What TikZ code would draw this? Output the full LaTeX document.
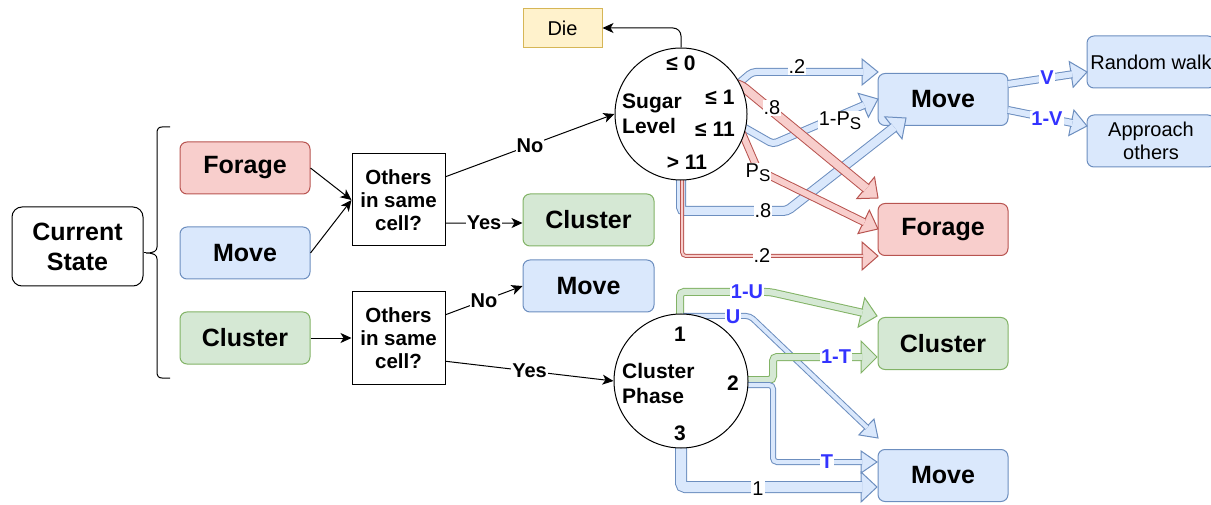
\documentclass[tikz,border=0pt]{standalone}
\usepackage{fontspec}
\setmainfont{Liberation Sans}
\usetikzlibrary{arrows.meta,calc}
\definecolor{bS}{HTML}{6C8EBF}\definecolor{bF}{HTML}{DAE8FC}
\definecolor{rS}{HTML}{B85450}\definecolor{rF}{HTML}{F8CECC}
\definecolor{gS}{HTML}{82B366}\definecolor{gF}{HTML}{D5E8D4}
\definecolor{yS}{HTML}{D6B656}\definecolor{yF}{HTML}{FFF2CC}
\definecolor{lbl}{HTML}{3333FF}
% #1 band style, #2 stroke, #3 fill, #4 half head width, #5 path, #6 penultimate point, #7 tip
\newcommand\flexarrow[7]{%
  \coordinate (hB) at ($(#7)!16pt!(#6)$);
  \filldraw[draw=#2, fill=#3, line width=1pt, line join=miter] (#7) -- ($(hB)!#4!90:(#7)$) -- ($(hB)!#4!-90:(#7)$) -- cycle;
  \draw[#1] #5 -- ($(#7)!15pt!(#6)$);}
\begin{document}
\begin{tikzpicture}[x=1pt,y=-1pt,
  box/.style={draw, line width=1pt, rounded corners=7pt, minimum width=130pt, minimum height=52pt, inner sep=0pt, align=center, font=\bfseries\fontsize{25}{30}\selectfont},
  redbox/.style={box, draw=rS, fill=rF},
  bluebox/.style={box, draw=bS, fill=bF},
  greenbox/.style={box, draw=gS, fill=gF},
  smallbox/.style={box, draw=bS, fill=bF, minimum width=128pt, font=\fontsize{20}{23}\selectfont},
  othbox/.style={draw, line width=1pt, minimum width=93pt, minimum height=92pt, inner sep=0pt, align=center, font=\bfseries\fontsize{20.5}{23}\selectfont},
  circ/.style={circle, draw, line width=1pt, fill=white, inner sep=0pt},
  cirtxt/.style={font=\bfseries\fontsize{21}{25}\selectfont, inner sep=0pt},
  arr/.style={line width=1pt, -{Stealth[length=11pt,width=10pt,inset=3pt]}},
  blk/.style={fill=white, inner sep=1pt, font=\bfseries\fontsize{20}{20}\selectfont},
  lab/.style={fill=white, inner sep=1pt, font=\fontsize{20}{20}\selectfont},
  blab/.style={fill=white, inner sep=1pt, text=lbl, font=\bfseries\fontsize{20}{20}\selectfont},
  bband/.style={draw=bS, line width=1pt, double=bF, double distance=#1, rounded corners=4pt},
  rband/.style={draw=rS, line width=1pt, double=rF, double distance=#1, rounded corners=4pt},
  gband/.style={draw=gS, line width=1pt, double=gF, double distance=#1, rounded corners=4pt},
]
\useasboundingbox (0,0) rectangle (1211,505);
\clip (0,0) rectangle (1211,505);

% left part
\node[box, draw=black, minimum width=131pt, minimum height=79pt, rounded corners=10pt] (cs) at (77.5,246.5) {Current\\State};
\node[redbox] (fo) at (245,168) {Forage};
\node[bluebox] (mo) at (245,253) {Move};
\node[greenbox] (cl) at (245,338) {Cluster};
\draw[line width=1pt] (170,127) -- (162,127) .. controls (158.5,127) and (157,129) .. (157,133) -- (157,247) .. controls (157,251) and (154,253) .. (146,253) .. controls (154,253) and (157,255) .. (157,259) -- (157,372) .. controls (157,376) and (158.5,378) .. (162,378) -- (170,378);
\draw[line width=1pt] (cs.east |- 0,253) -- (146,253);

\node[othbox] (oth1) at (398.5,200) {Others\\in same\\cell?};
\node[othbox] (oth2) at (398.5,338) {Others\\in same\\cell?};
\node[greenbox, minimum width=131pt] (cm) at (588.5,220) {Cluster};
\node[bluebox, minimum width=131pt] (mm) at (588.5,286) {Move};
\node[draw=yS, fill=yF, line width=1pt, minimum width=79pt, minimum height=39pt, inner sep=0pt, font=\fontsize{20}{20}\selectfont] (die) at (562.5,28) {Die};

% right boxes
\node[bluebox] (mr) at (943,99.5) {Move};
\node[redbox] (fr) at (943,229.5) {Forage};
\node[greenbox] (cr) at (943,343.5) {Cluster};
\node[bluebox] (mb) at (943,475.5) {Move};
\node[smallbox] (rw) at (1151,62) {Random walk};
\node[smallbox] (ap) at (1151,141) {Approach\\others};

% flex arrows from sugar level
\flexarrow{bband=6pt}{bS}{bF}{13pt}{(738,84) -- (752,72) -- (800,72)}{800,72}{878,72}
\flexarrow{bband=6pt}{bS}{bF}{13pt}{(738,124) -- (773,144)}{773,144}{878,99}
\flexarrow{bband=8pt}{bS}{bF}{14pt}{(681,175) -- (681,211) -- (787,211)}{787,211}{906,118}
\flexarrow{rband=8pt}{rS}{rF}{14pt}{(736,84) -- (742,86)}{742,86}{878,198}
\flexarrow{rband=6pt}{rS}{rF}{13pt}{(742,133) -- (758,170)}{758,170}{878,229}
\flexarrow{rband=2pt}{rS}{rF}{14pt}{(682,178) -- (682,256) -- (800,256)}{800,256}{878,256}
% flex arrows from cluster phase
\flexarrow{gband=6pt}{gS}{gF}{15pt}{(680,318) -- (680,292) -- (770,292)}{770,292}{877,316}
\flexarrow{bband=4pt}{bS}{bF}{11pt}{(683,316) -- (750,316)}{750,316}{878,438}
\flexarrow{gband=6pt}{gS}{gF}{16pt}{(744,380) -- (773,380) -- (773,357) -- (820,357)}{820,357}{877,357}
\flexarrow{bband=4pt}{bS}{bF}{11pt}{(744,385) -- (773,385) -- (773,462) -- (820,462)}{820,462}{877,462}
\flexarrow{bband=10pt}{bS}{bF}{15pt}{(681,445) -- (681,487) -- (800,487)}{800,487}{877,487}
% from Move to walk/approach
\flexarrow{bband=6pt}{bS}{bF}{13pt}{(1008,84)}{1008,84}{1087,72}
\flexarrow{bband=6pt}{bS}{bF}{13pt}{(1008,110)}{1008,110}{1087,126}

% circles
\node[circ, minimum size=132pt] (sugar) at (681,114) {};
\node[circ, minimum size=134pt] (cp) at (681,381) {};
\node[cirtxt] at (681,63) {≤ 0};
\node[cirtxt, align=left, anchor=west] at (622,114) {Sugar\\Level};
\node[cirtxt] at (720,97) {≤ 1};
\node[cirtxt] at (715,129) {≤ 11};
\node[cirtxt] at (687,162) {> 11};
\node[cirtxt] at (680,334) {1};
\node[cirtxt, align=left, anchor=west] at (622,383) {Cluster\\Phase};
\node[cirtxt] at (733,383) {2};
\node[cirtxt] at (680,433) {3};

% band labels
\node[lab] at (797,67) {.2};
\node[lab] at (772,108) {.8};
\node[lab] at (840,121) {1-P\raisebox{-4pt}{\fontsize{17}{17}\selectfont S}};
\node[lab] at (758,173) {P\raisebox{-4pt}{\fontsize{17}{17}\selectfont S}};
\node[lab] at (763,211) {.8};
\node[lab] at (762,256) {.2};
\node[blab] at (747,292) {1-U};
\node[blab] at (733,317) {U};
\node[blab] at (836,357) {1-T};
\node[blab] at (827,462) {T};
\node[lab] at (758,489) {1};
\node[blab] at (1047,78) {V};
\node[blab] at (1047,119) {1-V};

% black connectors
\draw[arr] (fo.east) -- (oth1.west);
\draw[arr] (mo.east) -- (oth1.west);
\draw[arr] (cl.east) -- (oth2.west);
\draw[arr] ($(oth1.north east)!0.25!(oth1.south east)$) -- node[blk] {No} (sugar.west);
\draw[arr] ($(oth1.north east)!0.75!(oth1.south east)$) -- node[blk] {Yes} (cm.west |- 0,223);
\draw[arr] ($(oth2.north east)!0.25!(oth2.south east)$) -- node[blk] {No} (mm.west);
\draw[arr] ($(oth2.north east)!0.75!(oth2.south east)$) -- node[blk] {Yes} (cp.west);
\draw[arr, rounded corners=8pt] (sugar.north) -- (sugar.north |- die.east) -- (die.east);
\end{tikzpicture}
\end{document}
